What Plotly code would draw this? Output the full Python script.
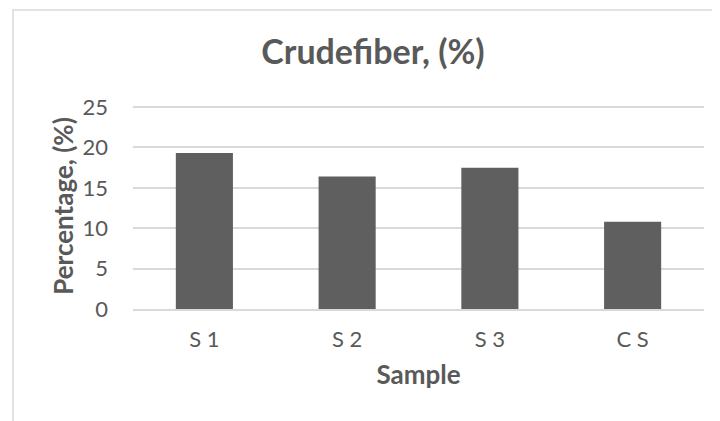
import plotly.graph_objects as go

# データ
samples = ["S 1", "S 2", "S 3", "C S"]
crude_fiber = [19.3, 16.4, 17.5, 10.8]

# ページの body に 8px の余白があるので、その分ずらして配置
W, H = 720, 421
ML, MR, MT, MB = 125, 24, 95, 120
TEXT = "#595959"
GRID = "#d9d9d9"
FONT = "Lato, 'Open Sans', sans-serif"

fig = go.Figure(
    go.Bar(x=samples, y=crude_fiber, marker_color="#5f5f5f",
           marker_line_width=0, hoverinfo="x+y")
)

# 外枠（左・上の線のみ見える）
pw, ph = W - ML - MR, H - MT - MB
fig.add_shape(type="rect", xref="paper", yref="paper",
              x0=(5 - ML) / pw, x1=(W + 40 - ML) / pw,
              y0=-(H + 40 - MT - ph) / ph, y1=1 + (MT - 2) / ph,
              line=dict(color=GRID, width=1.5), layer="below")

fig.update_layout(
    width=W, height=H,
    margin=dict(l=ML, r=MR, t=MT, b=MB),
    paper_bgcolor="white", plot_bgcolor="white",
    bargap=0.6,
    showlegend=False,
    font=dict(family=FONT, color=TEXT, size=22),
    title=dict(text="<b>Crudefiber, (%)</b>", x=365 / W, xanchor="center",
               y=1 - 44 / H, yanchor="middle",
               font=dict(size=34, color=TEXT, family=FONT)),
)
fig.update_xaxes(
    showgrid=False, showline=True, linecolor=GRID, linewidth=1.5,
    ticks="", ticklabelstandoff=10, tickfont=dict(size=22, color=TEXT),
    title=dict(text="<b>Sample</b>", standoff=15,
               font=dict(size=26, color=TEXT)),
)
fig.update_yaxes(
    range=[0, 25.5], dtick=5, showgrid=True, gridcolor=GRID, gridwidth=1.5,
    zeroline=False, showline=False, ticks="", ticklabelstandoff=24,
    tickfont=dict(size=22, color=TEXT),
    title=dict(text="<b>Percentage, (%)</b>", standoff=1,
               font=dict(size=26, color=TEXT)),
)

fig.write_html("out.html")
